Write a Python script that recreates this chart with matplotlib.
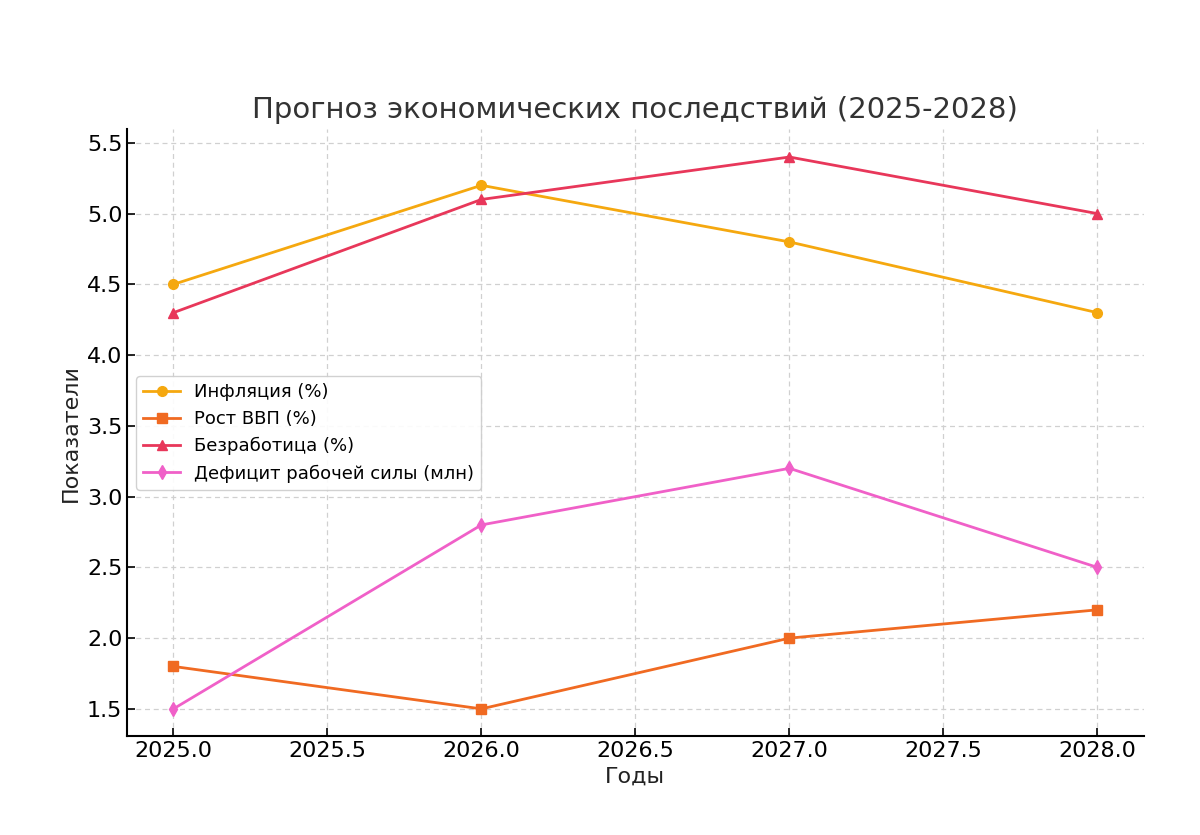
import matplotlib
matplotlib.use("Agg")
import matplotlib.pyplot as plt

years = [2025, 2026, 2027, 2028]
inflation = [4.5, 5.2, 4.8, 4.3]
gdp_growth = [1.8, 1.5, 2.0, 2.2]
unemployment = [4.3, 5.1, 5.4, 5.0]
labor_deficit = [1.5, 2.8, 3.2, 2.5]

labels = ["Инфляция (%)", "Рост ВВП (%)", "Безработица (%)", "Дефицит рабочей силы (млн)"]

plt.rcParams["font.family"] = ["DejaVu Sans"]

fig, ax = plt.subplots(figsize=(12, 8.35), dpi=100)
fig.subplots_adjust(left=0.106, right=0.953, top=0.845, bottom=0.118)

ax.plot(years, inflation, marker="o", color="#F5A80F", linewidth=2, markersize=7, label=labels[0])
ax.plot(years, gdp_growth, marker="s", color="#F06A22", linewidth=2, markersize=7, label=labels[1])
ax.plot(years, unemployment, marker="^", color="#E8375A", linewidth=2, markersize=7, label=labels[2])
ax.plot(years, labor_deficit, marker="d", color="#F060C8", linewidth=2, markersize=7, label=labels[3])

ax.set_title("Прогноз экономических последствий (2025-2028)", fontsize=21, color="#333333", pad=8)
ax.set_xlabel("Годы", fontsize=16, color="#222222")
ax.set_ylabel("Показатели", fontsize=16, color="#222222")
ax.tick_params(axis="both", direction="in", labelsize=16, length=6, width=1.2)
ax.grid(True, linestyle=(0, (4, 3)), color="#d0d0d0", linewidth=0.9)
ax.spines["top"].set_visible(False)
ax.spines["right"].set_visible(False)
ax.spines["left"].set_linewidth(1.5)
ax.spines["bottom"].set_linewidth(1.5)
ax.legend(loc="center left", fontsize=13, framealpha=0.9, edgecolor="#cccccc")

fig.savefig("out.png")
